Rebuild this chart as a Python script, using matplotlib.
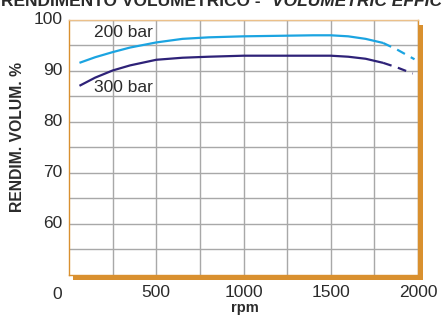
import matplotlib as mpl
import matplotlib.pyplot as plt
from matplotlib.patches import Rectangle

# 200 bar curve (solid part + dashed extrapolation)
rpm_200 = [60, 150, 250, 350, 500, 650, 800, 1000, 1200, 1400, 1500, 1600, 1700, 1800]
eff_200 = [91.6, 92.7, 93.7, 94.6, 95.6, 96.3, 96.6, 96.8, 96.9, 97.0, 97.0, 96.8, 96.3, 95.5]
rpm_200_dash = [1800, 1880, 1980]
eff_200_dash = [95.5, 94.2, 92.3]

# 300 bar curve
rpm_300 = [60, 150, 250, 350, 500, 650, 800, 1000, 1200, 1400, 1500, 1600, 1700, 1800]
eff_300 = [87.1, 88.7, 90.1, 91.1, 92.2, 92.6, 92.8, 93.0, 93.0, 93.0, 93.0, 92.8, 92.4, 91.6]
rpm_300_dash = [1800, 1880, 1970]
eff_300_dash = [91.6, 90.7, 89.5]

x_ticks = [500, 1000, 1500, 2000]
y_ticks = [60, 70, 80, 90, 100]

LIGHTBLUE = "#1BA4E1"
NAVY = "#2E2278"
ORANGE = "#D9902F"
GRID = "#A8A8A8"
TEXT = "#2B2B2B"

mpl.rcParams.update({
    "font.family": ["Liberation Sans", "DejaVu Sans"],
    "font.size": 12,
})

W, H = 442, 316
fig = plt.figure(figsize=(W / 100, H / 100), dpi=100)
left, right, top, bottom = 69, 418, 20, 275
ax = fig.add_axes([left / W, 1 - bottom / H, (right - left) / W, (bottom - top) / H])

# orange drop shadow behind the plot box
fig.patches.append(Rectangle(((left + 4) / W, 1 - (bottom + 4.5) / H),
                             (right - left + 1) / W, (bottom - top) / H,
                             transform=fig.transFigure, facecolor=ORANGE,
                             edgecolor="none", zorder=0))
ax.set_zorder(1)
ax.set_facecolor("white")

ax.set_xlim(0, 2000)
ax.set_ylim(50, 100)
ax.set_xticks(range(250, 2001, 250))
ax.set_yticks(range(55, 101, 5))
ax.grid(True, color=GRID, linewidth=1.0)
ax.set_axisbelow(True)
ax.tick_params(length=0, labelbottom=False, labelleft=False)
for s in ax.spines.values():
    s.set_color(ORANGE)
    s.set_linewidth(1.0)
ax.spines["top"].set_color("#EBC08A")

ax.plot(rpm_200, eff_200, color=LIGHTBLUE, lw=1.6, solid_capstyle="butt")
ax.plot(rpm_200_dash, eff_200_dash, color=LIGHTBLUE, lw=1.6, dashes=(4, 3))
ax.plot(rpm_300, eff_300, color=NAVY, lw=1.6, solid_capstyle="butt")
ax.plot(rpm_300_dash, eff_300_dash, color=NAVY, lw=1.6, dashes=(4, 3))

ax.text(145, 97.5, "200 bar", fontsize=12.5, color=TEXT, va="center")
ax.text(145, 86.8, "300 bar", fontsize=12.5, color=TEXT, va="center")

# tick labels drawn as text so the broken-axis "0" can sit at the corner
for v in y_ticks:
    ax.text(-38, v, str(v), transform=ax.transData, ha="right", va="center",
            fontsize=12.5, color=TEXT, clip_on=False)
for v in x_ticks:
    ax.text(v, 46.5, str(v), ha="center", va="center", fontsize=12.5,
            color=TEXT, clip_on=False)
ax.text(-38, 46.2, "0", ha="right", va="center", fontsize=12.5, color=TEXT,
        clip_on=False)

fig.text(18 / W, 1 - 137 / H, "RENDIM. VOLUM. %", rotation=90, ha="center",
         va="center", fontsize=11.3, fontweight="bold", color=TEXT)
fig.text(245 / W, 1 - 312 / H, "rpm", ha="center", va="baseline",
         fontsize=10.5, fontweight="bold", color=TEXT)

fig.text(1 / W, 1 - 5.7 / H, "RENDIMENTO VOLUMETRICO -", ha="left",
         va="baseline", fontsize=12.5, fontweight="bold", color=TEXT)
fig.text(272 / W, 1 - 5.7 / H, "VOLUMETRIC EFFICIENCY", ha="left",
         va="baseline", fontsize=12.5, fontweight="bold", style="italic",
         color=TEXT)

fig.savefig("out.png", dpi=100)
